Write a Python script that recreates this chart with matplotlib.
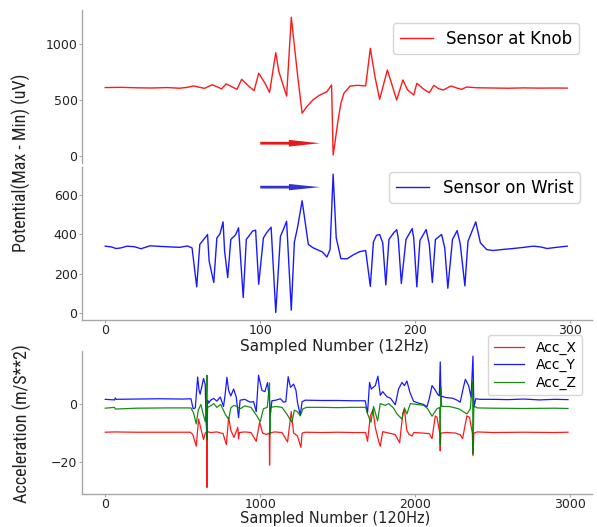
import matplotlib
matplotlib.use("Agg")
import matplotlib.pyplot as plt
from matplotlib import font_manager as fm

# ---------------- data ----------------
knob_x = [0, 10, 20, 30, 40, 48, 53, 57, 60, 64, 69, 72, 75, 78, 82, 85, 88, 92, 96, 99,
          103, 106, 110, 112, 117, 120, 124, 127, 130, 134, 138, 143, 146, 147, 148, 150,
          152, 154, 158, 163, 168, 171, 174, 177, 182, 188, 192, 195, 199, 201, 205, 209,
          212, 215, 218, 223, 227, 230, 233, 240, 250, 260, 270, 280, 290, 298]
knob_y = [610, 612, 608, 606, 610, 604, 612, 625, 615, 603, 635, 618, 598, 643, 615, 594,
          684, 630, 582, 738, 650, 567, 922, 752, 534, 1239, 730, 380, 439, 500, 540, 573,
          633, 6, 100, 300, 470, 560, 624, 630, 625, 961, 707, 505, 767, 499, 678, 590, 543,
          648, 600, 564, 630, 600, 588, 624, 605, 594, 615, 608, 606, 604, 607, 605, 606, 605]

wrist_x = [0, 4, 7, 10, 14, 19, 23, 29, 35, 40, 48, 53, 56, 59, 61, 64, 66, 67, 70, 72,
           74, 76, 77, 79, 81, 84, 86, 89, 91, 95, 97, 99, 102, 104, 107, 110, 113, 115,
           117, 120, 122, 124, 127, 131, 134, 140, 143, 145, 147, 149, 152, 156, 160, 164,
           168, 171, 173, 175, 177, 179, 181, 183, 186, 188, 189, 191, 194, 198, 199, 201,
           203, 207, 209, 211, 213, 217, 219, 221, 224, 227, 229, 232, 234, 239, 242, 246,
           250, 256, 263, 270, 276, 281, 285, 291, 298]
wrist_y = [339, 335, 327, 330, 339, 336, 326, 341, 338, 336, 333, 340, 330, 133, 348, 378,
           398, 264, 155, 381, 401, 462, 314, 180, 373, 396, 432, 79, 373, 415, 420, 146,
           380, 406, 435, 3, 389, 425, 465, 15, 360, 432, 569, 348, 331, 310, 284, 322, 704,
           381, 276, 275, 295, 311, 317, 135, 361, 394, 398, 356, 143, 373, 406, 423, 380,
           150, 373, 428, 380, 133, 368, 423, 350, 155, 373, 398, 330, 126, 373, 418, 350,
           138, 364, 462, 356, 322, 317, 322, 327, 333, 339, 335, 327, 333, 339]

accx_t = [0, 60, 200, 400, 550, 565, 587, 602, 615, 634, 645, 654, 656, 658, 680, 720, 760,
          781, 796, 810, 830, 845, 855, 860, 866, 900, 940, 974, 996, 1015, 1040, 1058, 1060,
          1063, 1090, 1140, 1176, 1200, 1215, 1240, 1262, 1270, 1290, 1400, 1500, 1600, 1680,
          1692, 1710, 1727, 1742, 1764, 1774, 1790, 1830, 1870, 1899, 1920, 1930, 1945, 1960,
          1979, 1990, 2050, 2090, 2108, 2129, 2140, 2158, 2161, 2165, 2200, 2260, 2290, 2305,
          2333, 2350, 2368, 2372, 2378, 2400, 2500, 2700, 2900, 2985]
accx_v = [-9.7, -9.6, -9.7, -9.7, -9.7, -10.5, -14.6, -5.1, -8, -12.3, -10, -9.5, -29, -9.5,
          -9.8, -9.6, -10.2, -14, -4.5, -9, -11.5, -9.5, -8, -12, -9.8, -9.6, -9.8, -12.9,
          -6.2, -10, -10.5, -10, -21.2, -10, -9.6, -9.8, -13.1, -2.5, -10, -11, -15, -10,
          -9.7, -9.8, -9.7, -9.8, -9.8, -12.9, -4, -1.8, -8, -12.9, -14.6, -9.5, -10, -10.5,
          -13.4, -2.9, -1.8, -9, -10.5, -11, -9.8, -10, -10.2, -11.9, -4, -4.5, -10, -16.2,
          -10, -9.8, -10, -10.6, -11.9, -4, -4.5, -10, -17.9, -10, -9.6, -9.8, -9.7, -9.8, -9.7]

accy_t = [0, 60, 65, 70, 200, 350, 500, 553, 567, 581, 596, 605, 612, 624, 634, 645, 650, 656,
          660, 667, 680, 699, 720, 742, 763, 774, 785, 796, 810, 828, 845, 860, 870, 900, 935,
          957, 974, 989, 1011, 1030, 1047, 1060, 1065, 1075, 1100, 1130, 1150, 1165, 1180, 1195,
          1215, 1230, 1241, 1258, 1270, 1290, 1400, 1500, 1600, 1677, 1692, 1705, 1716, 1742,
          1759, 1774, 1790, 1817, 1840, 1871, 1892, 1914, 1930, 1946, 1965, 1989, 2020, 2054,
          2075, 2090, 2108, 2129, 2145, 2155, 2161, 2166, 2175, 2200, 2240, 2270, 2290, 2308,
          2323, 2344, 2360, 2372, 2378, 2390, 2419, 2500, 2600, 2700, 2800, 2900, 2985]
accy_v = [1.8, 1.6, 2.3, 1.8, 1.9, 2.0, 1.9, 2.0, -1.5, -1.2, 9.6, 5, 3.6, 6.5, 9.1, 7, -5,
          -11.7, 1.5, 0.5, 1.5, 2.1, 1.2, 2.6, -0.7, 3.8, 9.5, 4.9, 3, 5.4, 2.6, -4.6, 1.5, 1.8,
          0.8, 1, -2.5, 10.2, 4.9, 4.5, 7.7, 1, -3.6, 1.3, 1.5, 2.0, 0.8, 1, 9.7, 6, 7.1, 5,
          0.4, -3.7, 1, 1.5, 1.4, 1.4, 1.3, 1.3, -3.0, 7.7, 5.4, 6.6, 9.9, 3.2, 4.5, 2.7, 2.2,
          -0.1, 5.4, 7.7, 6.6, 8.2, 4.3, 1.1, 0.5, 0, -0.8, 2, 6.6, 5, 3.5, 3, 14.9, 2.5, 2.8,
          2.4, 2.2, 1.5, 0.8, 5.4, 8.8, 6.6, 2.5, 16.9, -1, 2, 1.8, 1.8, 1.7, 1.9, 1.6, 1.8, 1.7]

accz_t = [0, 60, 65, 200, 400, 553, 570, 587, 600, 617, 630, 645, 652, 656, 657, 660, 680, 700,
          720, 745, 774, 796, 810, 830, 850, 870, 900, 940, 978, 1000, 1020, 1045, 1060, 1062,
          1066, 1100, 1140, 1172, 1204, 1220, 1240, 1258, 1275, 1300, 1400, 1500, 1600, 1680,
          1692, 1714, 1731, 1757, 1774, 1806, 1830, 1860, 1882, 1914, 1930, 1946, 1968, 2000,
          2054, 2080, 2108, 2140, 2158, 2161, 2164, 2170, 2220, 2280, 2333, 2355, 2370, 2372,
          2378, 2400, 2500, 2700, 2900, 2985]
accz_v = [-1.3, -1.0, -1.6, -1.3, -1.2, -1.2, -3, -6.8, -2, 0, -3, -6, -2, 10.2, -12.3, -1,
          -0.5, 0.3, -1, 0, -3.4, -5.2, -1.2, -0.3, -0.7, -1.5, -0.5, -1, -4, -6, -1.5, -1, 7.5,
          -10.5, -1, -0.7, -1, -3.4, -6.2, -2, -2.5, -4, -1.5, -1.0, -1.0, -1.1, -1.0, -1.0,
          -3.3, -6.2, -0.7, -5.7, 0.3, -0.3, 0.3, -1.3, -3.3, -5.1, -1.2, -3.3, 0.3, 0.1, -0.3,
          -1.5, -4.1, -1.5, -1, -14, 6, -0.7, -0.7, -1.5, -3.3, -1.5, 8.2, -17.3, -0.5, -1.2,
          -1.3, -1.4, -1.3, -1.4]

top_yticks = [0, 500, 1000]
mid_yticks = [0, 200, 400, 600]
mid_xticks = [0, 100, 200, 300]
bot_yticks = [-20, 0]
bot_xticks = [0, 1000, 2000, 3000]

# ---------------- fonts ----------------
avail = {f.name for f in fm.fontManager.ttflist}
narrow = next((f for f in ['Liberation Sans Narrow', 'Roboto Condensed', 'Open Sans Condensed']
               if f in avail), None)
if narrow:
    ylab_font = dict(family=narrow, fontsize=13)
else:
    ylab_font = dict(family='DejaVu Sans', fontsize=9.5)

plt.rcParams['font.family'] = ['DejaVu Sans']

W, H = 597, 527
fig = plt.figure(figsize=(W / 100, H / 100), dpi=100)


def box(x0, y0, x1, y1):
    return [x0 / W, 1 - y1 / H, (x1 - x0) / W, (y1 - y0) / H]


ax1 = fig.add_axes(box(82, 10, 592, 163))
ax2 = fig.add_axes(box(82, 167, 592, 320))
ax3 = fig.add_axes(box(82, 351, 592, 494))

spine_col = '#a8a8a8'
for ax in (ax1, ax2, ax3):
    for s in ('top', 'right'):
        ax.spines[s].set_visible(False)
    for s in ('left', 'bottom'):
        ax.spines[s].set_color(spine_col)
        ax.spines[s].set_linewidth(1.0)
    ax.tick_params(axis='both', length=2, width=0.8, color=spine_col, pad=1.2,
                   labelsize=9, labelcolor='#222222')
    ax.set_facecolor('white')

# top panel
ax1.plot(knob_x, knob_y, color='red', lw=1.0, alpha=0.9, label='Sensor at Knob')
ax1.spines['bottom'].set_visible(False)
ax1.tick_params(axis='x', bottom=False, labelbottom=False)
ax1.set_xlim(-15, 314)
ax1.set_ylim(-65, 1304)
ax1.set_yticks(top_yticks)
ax1.arrow(100, 112, 38.5, 0, width=25, head_width=60, head_length=20,
          length_includes_head=True, color='#e41a1c', lw=0)
ax1.legend(loc='upper right', bbox_to_anchor=(579 / W, 1 - 23 / H),
           bbox_transform=fig.transFigure, fontsize=12, borderaxespad=0)

# middle panel
ax2.plot(wrist_x, wrist_y, color='blue', lw=1.0, alpha=0.9, label='Sensor on Wrist')
ax2.set_xlim(-15, 314)
ax2.set_ylim(-35, 740)
ax2.set_yticks(mid_yticks)
ax2.set_xticks(mid_xticks)
ax2.arrow(100, 638, 38.5, 0, width=14, head_width=32, head_length=20,
          length_includes_head=True, color='#3232d2', lw=0)
ax2.legend(loc='upper right', bbox_to_anchor=(580 / W, 1 - 172 / H),
           bbox_transform=fig.transFigure, fontsize=12, borderaxespad=0)

# bottom panel
ax3.plot(accx_t, accx_v, color='red', lw=0.9, alpha=0.9, label='Acc_X')
ax3.plot(accy_t, accy_v, color='blue', lw=0.9, alpha=0.9, label='Acc_Y')
ax3.plot(accz_t, accz_v, color='green', lw=0.9, alpha=0.9, label='Acc_Z')
ax3.set_xlim(-150, 3140)
ax3.set_ylim(-31.3, 18.7)
ax3.set_yticks(bot_yticks)
ax3.set_xticks(bot_xticks)
ax3.legend(loc='upper right', bbox_to_anchor=(582 / W, 1 - 335 / H),
           bbox_transform=fig.transFigure, fontsize=10, borderaxespad=0,
           labelspacing=0.25, handlelength=2.2)

# labels
fig.text(335 / W, 1 - 351 / H, 'Sampled Number (12Hz)', ha='center', va='baseline',
         fontsize=11, color='#222222')
fig.text(335 / W, 1 - 522.5 / H, 'Sampled Number (120Hz)', ha='center', va='baseline',
         fontsize=10.5, color='#222222')
fig.text(21 / W, 1 - 163 / H, 'Potential(Max - Min) (uV)', rotation=90, ha='center',
         va='center', color='#222222', **ylab_font)
fig.text(22 / W, 1 - 424 / H, 'Acceleration (m/S**2)', rotation=90, ha='center',
         va='center', color='#222222', **ylab_font)

fig.savefig('out.png', dpi=100, facecolor='white')
